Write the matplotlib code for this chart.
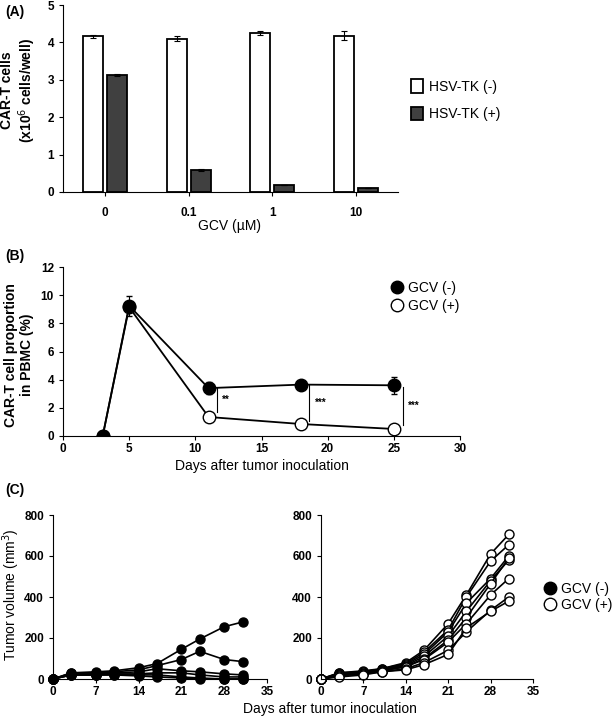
import matplotlib
matplotlib.use("Agg")
import matplotlib.pyplot as plt
from matplotlib.lines import Line2D
import numpy as np

plt.rcParams['font.family'] = ['Liberation Sans', 'DejaVu Sans']

# (A) CAR-T cells per well
gcv_doses = ["0", "0.1", "1", "10"]
tk_neg = [4.17, 4.10, 4.25, 4.18]
tk_neg_err = [0.04, 0.06, 0.05, 0.12]
tk_pos = [3.12, 0.59, 0.19, 0.11]
tk_pos_err = [0.03, 0.02, 0.01, 0.01]

# (B) CAR-T proportion in PBMC
days_b = [3, 5, 11, 18, 25]
gcv_neg_b = [0, 9.25, 3.4, 3.65, 3.6]
gcv_neg_b_err = [0, 0.7, 0.4, 0.1, 0.6]
gcv_pos_b = [0, 9.15, 1.35, 0.85, 0.5]
sig_days = [11.6, 18.6, 25.7]
sig_lo = [1.7, 1.1, 0.8]
sig_hi = [3.4, 3.6, 3.5]
sig_txt = ["**", "***", "***"]

# (C) tumour volume
days_c = [0, 3, 7, 10, 14, 17, 21, 24, 28, 31]
mice_neg = [
    [0, 30, 35, 40, 55, 75, 145, 195, 255, 278],
    [0, 30, 30, 35, 45, 65, 95, 135, 95, 85],
    [0, 25, 25, 30, 35, 50, 40, 35, 25, 20],
    [0, 20, 20, 25, 25, 30, 30, 20, 10, 10],
    [0, 20, 20, 20, 15, 10, 5, 0, 0, 0],
    [0, 20, 20, 20, 20, 20, 10, 5, 0, 0],
]
mice_pos = [
    [0, 30, 40, 50, 80, 140, 270, 410, 610, 705],
    [0, 30, 35, 50, 75, 130, 240, 400, 575, 655],
    [0, 25, 30, 45, 70, 120, 230, 370, 490, 600],
    [0, 25, 35, 45, 65, 110, 210, 330, 480, 580],
    [0, 20, 30, 40, 60, 100, 190, 300, 465, 590],
    [0, 20, 25, 40, 60, 95, 180, 270, 410, 490],
    [0, 15, 25, 35, 50, 80, 140, 230, 335, 400],
    [0, 10, 20, 35, 45, 70, 120, 250, 330, 380],
]

W, H = 614, 720
fig = plt.figure(figsize=(W / 100, H / 100), dpi=100)


def box(l, t, r, b):
    return [l / W, 1 - b / H, (r - l) / W, (b - t) / H]


def ftext(x, y, s, **kw):
    return fig.text(x / W, 1 - y / H, s, **kw)


def style(ax):
    ax.spines['top'].set_visible(False)
    ax.spines['right'].set_visible(False)
    ax.spines['left'].set_linewidth(0.8)
    ax.spines['bottom'].set_linewidth(0.8)
    ax.tick_params(labelsize=8.5, width=0.8, length=3)
    for lab in ax.get_xticklabels() + ax.get_yticklabels():
        lab.set_fontweight('bold')


# ---- A
axA = fig.add_axes(box(63, 5, 398, 192))
x = np.arange(len(gcv_doses))
bw = 0.24
axA.bar(x - 0.143, tk_neg, bw, yerr=tk_neg_err, color='white', edgecolor='black',
        linewidth=1.3, capsize=2, error_kw=dict(elinewidth=0.8, capthick=0.8), label='HSV-TK (-)')
axA.bar(x + 0.143, tk_pos, bw, yerr=tk_pos_err, color='#404040', edgecolor='black',
        linewidth=1.3, capsize=2, error_kw=dict(elinewidth=0.8, capthick=0.8), label='HSV-TK (+)')
axA.set_xlim(-0.5, 3.5)
axA.set_ylim(0, 5)
axA.set_xticks(x)
axA.set_xticklabels(gcv_doses)
axA.tick_params(axis='x', length=0, pad=8)
style(axA)
ftext(19, 90, "CAR-T cells\n(x10$^6$ cells/well)", fontsize=10, fontweight='bold',
      rotation=90, ha='center', va='center', linespacing=1.1)
ftext(230, 226, "GCV (µM)", fontsize=10, ha='center', va='center')
axA.legend(loc='center left', bbox_to_anchor=(1.0, 0.49), frameon=False, fontsize=10,
           handlelength=0.9, handleheight=1.1, handletextpad=0.4, labelspacing=0.95)
ftext(5, 12, "(A)", fontsize=10, fontweight='bold', va='center')

# ---- B
axB = fig.add_axes(box(63, 267, 460, 436))
axB.errorbar(days_b, gcv_neg_b, yerr=gcv_neg_b_err, color='black', marker='o', ms=9,
             mfc='black', mec='black', lw=1.3, capsize=2, elinewidth=0.8, zorder=3)
axB.plot(days_b, gcv_pos_b, color='black', marker='o', ms=9, mfc='white', mec='black',
         mew=1.0, lw=1.3, zorder=2)
for d, lo, hi, t in zip(sig_days, sig_lo, sig_hi, sig_txt):
    axB.plot([d, d], [lo, hi], color='black', lw=0.8)
    axB.text(d + 0.4, (lo + hi) / 2, t, fontsize=7, fontweight='bold', va='center')
axB.set_xlim(0, 30)
axB.set_ylim(0, 12)
axB.set_xticks(range(0, 31, 5))
axB.set_yticks(range(0, 13, 2))
style(axB)
axB.tick_params(axis='x', pad=2)
ftext(19, 355, "CAR-T cell proportion\nin PBMC (%)", fontsize=10, fontweight='bold',
      rotation=90, ha='center', va='center', linespacing=1.1)
ftext(262, 466, "Days after tumor inoculation", fontsize=10, ha='center', va='center')
hb1 = Line2D([], [], ls='', marker='o', ms=9, mfc='black', mec='black', label='GCV (-)')
hb2 = Line2D([], [], ls='', marker='o', ms=9, mfc='white', mec='black', label='GCV (+)')
axB.legend(handles=[hb1, hb2], loc='upper left', bbox_to_anchor=(0.8, 0.99), frameon=False,
           fontsize=10, handlelength=0.6, handletextpad=0.5, labelspacing=0.25)
ftext(5, 256, "(B)", fontsize=10, fontweight='bold', va='center')

# ---- C
axC1 = fig.add_axes(box(53, 515, 267, 679))
axC2 = fig.add_axes(box(321, 515, 533, 679))
for m in mice_neg:
    axC1.plot(days_c, m, color='black', marker='o', ms=6.5, mfc='black', mec='black', lw=1.2)
for m in mice_pos:
    axC2.plot(days_c, m, color='black', marker='o', ms=6.5, mfc='white', mec='black', mew=1.0, lw=1.2)
for ax in (axC1, axC2):
    ax.set_xlim(0, 35)
    ax.set_ylim(0, 800)
    ax.set_xticks(range(0, 36, 7))
    ax.set_yticks(range(0, 801, 200))
    ax.tick_params(axis='x', length=0, pad=2)
    style(ax)
    for a in ax.lines:
        a.set_clip_on(False)
ftext(11, 595, "Tumor volume (mm$^3$)", fontsize=10, rotation=90, ha='center', va='center')
ftext(330, 709, "Days after tumor inoculation", fontsize=10, ha='center', va='center')
hc1 = Line2D([], [], ls='', marker='o', ms=9, mfc='black', mec='black', label='GCV (-)')
hc2 = Line2D([], [], ls='', marker='o', ms=9, mfc='white', mec='black', label='GCV (+)')
axC2.legend(handles=[hc1, hc2], loc='center left', bbox_to_anchor=(1.0, 0.50), frameon=False,
            fontsize=10, handlelength=0.6, handletextpad=0.5, labelspacing=0.15)
ftext(5, 490, "(C)", fontsize=10, fontweight='bold', va='center')

fig.savefig("out.png", dpi=100)
